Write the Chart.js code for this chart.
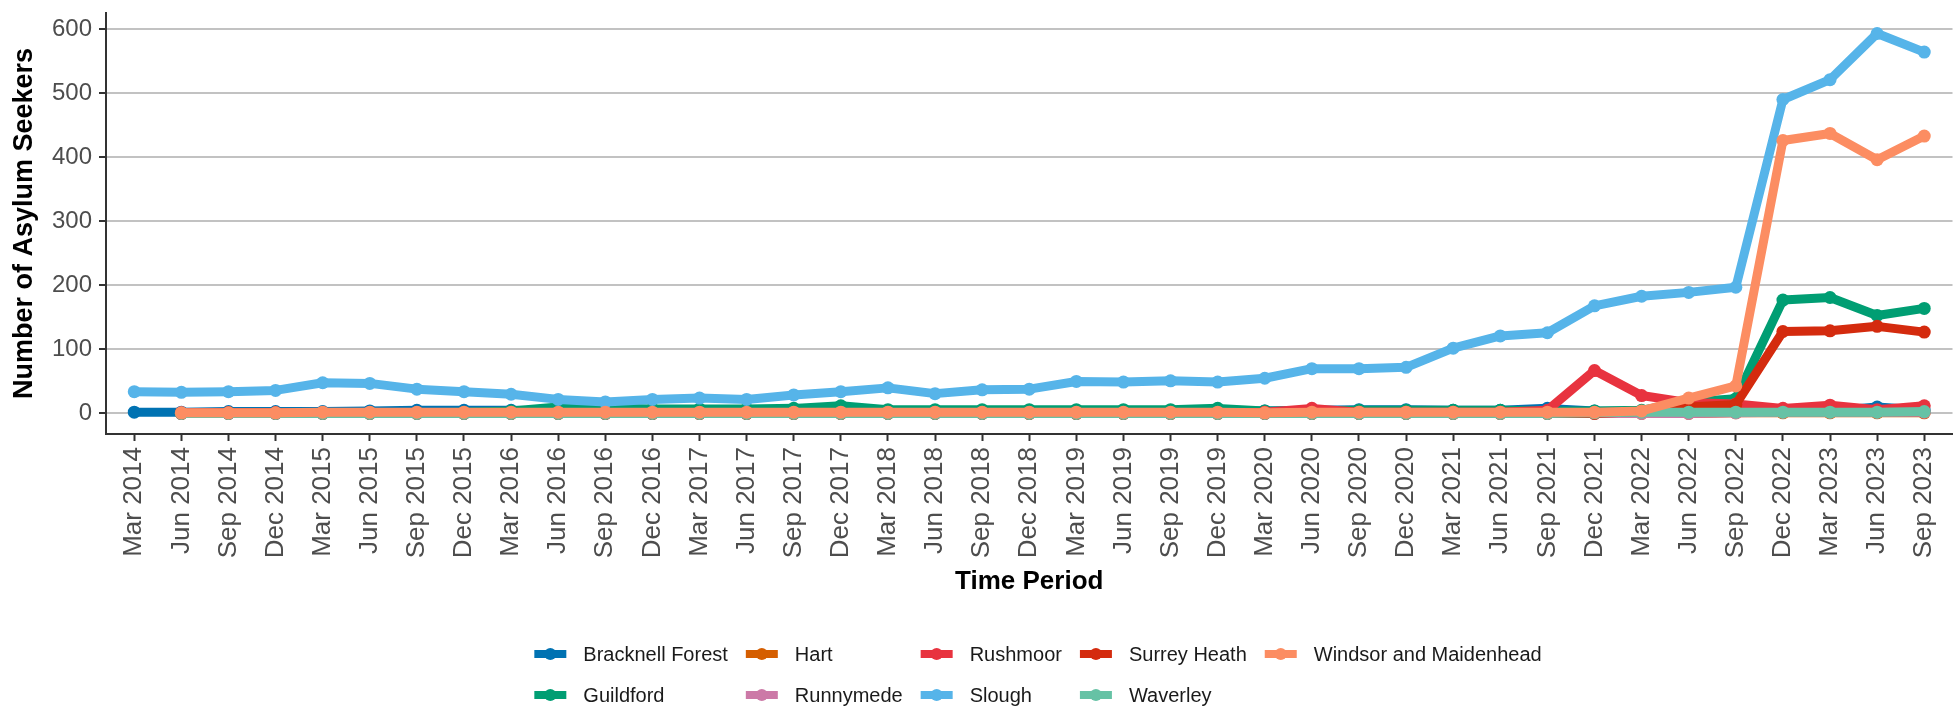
<!DOCTYPE html>
<html>
<head>
<meta charset="utf-8">
<title>Asylum seekers by local authority</title>
<script src="https://cdn.jsdelivr.net/npm/chart.js@4.4.1/dist/chart.umd.min.js"></script>
<style>
  html, body { margin: 0; padding: 0; background: #fff; }
  canvas { display: block; }
</style>
</head>
<body>
<canvas id="myChart" width="1959" height="706"></canvas>
<script>
const quarters = ['Mar 2014', 'Jun 2014', 'Sep 2014', 'Dec 2014', 'Mar 2015', 'Jun 2015', 'Sep 2015', 'Dec 2015',
  'Mar 2016', 'Jun 2016', 'Sep 2016', 'Dec 2016', 'Mar 2017', 'Jun 2017', 'Sep 2017', 'Dec 2017',
  'Mar 2018', 'Jun 2018', 'Sep 2018', 'Dec 2018', 'Mar 2019', 'Jun 2019', 'Sep 2019', 'Dec 2019',
  'Mar 2020', 'Jun 2020', 'Sep 2020', 'Dec 2020', 'Mar 2021', 'Jun 2021', 'Sep 2021', 'Dec 2021',
  'Mar 2022', 'Jun 2022', 'Sep 2022', 'Dec 2022', 'Mar 2023', 'Jun 2023', 'Sep 2023'];

const yTicks = [0, 100, 200, 300, 400, 500, 600];

// one array per local authority, same order as quarters (null = no figure that quarter)
const bracknellForest = [2, 2, 3, 3, 3, 4, 5, 5, 5, 4, 4, 4, 4, 4, 4, 4, 4, 4, 4, 4, 4, 4, 4, 4, 4, 5, 6, 6, 5, 5, 8, 4, 3, 3, 3, 3, 4, 10, 5];
const guildford = [null, 0, 0, 0, 0, 0, 1, 2, 4, 10, 9, 7, 7, 7, 8, 12, 6, 6, 6, 6, 6, 6, 6, 8, 4, 4, 5, 5, 5, 5, 4, 4, 5, 18, 23, 177, 181, 153, 164];
const hart = [null, 0, 1, 1, 1, 1, 1, 0, 0, 0, 0, 0, 0, 0, 0, 0, 1, 1, 1, 0, 0, 0, 0, 0, 0, 0, 0, 0, 0, 0, 0, 0, 0, 0, 1, 1, 1, 1, 1];
const runnymede = [null, 0, 0, 0, 0, 0, 0, 0, 0, 0, 0, 0, 0, 0, 1, 1, 1, 1, 1, 1, 1, 1, 1, 0, 0, 0, 0, 0, 0, 0, 0, 0, 0, 0, 1, 2, 2, 2, 2];
const rushmoor = [null, 1, 1, 1, 1, 1, 1, 1, 1, 1, 0, 0, 0, 0, 0, 0, 0, 0, 0, 0, 0, 0, 0, 1, 2, 8, 2, 2, 2, 2, 5, 67, 28, 17, 15, 8, 13, 6, 12];
const slough = [34, 33, 34, 36, 48, 47, 38, 34, 30, 22, 18, 22, 24, 22, 29, 34, 40, 31, 37, 38, 50, 49, 51, 49, 55, 70, 70, 72, 102, 121, 126, 168, 183, 189, 197, 490, 521, 593, 564];
const surreyHeath = [null, 0, 0, 0, 0, 0, 0, 0, 0, 0, 0, 0, 0, 0, 0, 0, 0, 0, 0, 0, 0, 0, 0, 0, 0, 0, 0, 0, 0, 0, 0, 0, 3, 10, 14, 128, 129, 136, 127];
const waverley = [null, 0, 0, 0, 0, 0, 0, 0, 0, 0, 0, 0, 0, 0, 0, 0, 0, 0, 0, 0, 0, 0, 0, 0, 0, 0, 0, 0, 0, 0, 0, 1, 2, 2, 2, 2, 2, 2, 3];
const windsorMaidenhead = [null, 1, 1, 1, 2, 2, 2, 2, 2, 2, 2, 2, 2, 2, 2, 2, 2, 2, 2, 2, 2, 2, 2, 2, 1, 2, 2, 2, 2, 2, 2, 2, 4, 24, 43, 426, 437, 396, 433];

const areaNames = ['Bracknell Forest', 'Guildford', 'Hart', 'Runnymede', 'Rushmoor', 'Slough', 'Surrey Heath', 'Waverley', 'Windsor and Maidenhead'];
const areaValues = [bracknellForest, guildford, hart, runnymede, rushmoor, slough, surreyHeath, waverley, windsorMaidenhead];
const areaColours = ['#0072B2', '#009E73', '#D55E00', '#CC79A7', '#E8333F', '#56B4E9', '#D42B0E', '#66C2A5', '#FC8D62'];

Chart.defaults.font.family = '"Liberation Sans", Arial, sans-serif';

const datasets = areaNames.map(function(name, i) {
  return {
    label: name,
    data: areaValues[i].map((v, j) => ({ x: j, y: v })),
    borderColor: areaColours[i],
    backgroundColor: areaColours[i],
    pointBackgroundColor: areaColours[i],
    borderWidth: 9,
    pointRadius: 6.5,
    pointHoverRadius: 6.5,
    pointBorderWidth: 0,
    borderJoinStyle: 'round',
    tension: 0,
    // last area ends up on top, like ggplot
    order: areaNames.length - i
  };
});

// ggplot style legend: 2 rows, filled column by column
const columnLegend = {
  id: 'columnLegend',
  afterDraw(chart) {
    const ctx = chart.ctx;
    const sets = chart.data.datasets;
    const rows = 2, swatch = 32, gap = 17, colGap = 18;
    const rowY = [chart.height - 52, chart.height - 11];
    ctx.save();
    ctx.font = '20px "Liberation Sans", Arial, sans-serif';
    const cols = [];
    for (let i = 0; i < sets.length; i += rows) {
      const group = sets.slice(i, i + rows);
      cols.push({ group: group, w: Math.max(...group.map(d => ctx.measureText(d.label).width)) });
    }
    const total = cols.reduce((s, c) => s + swatch + gap + c.w, 0) + colGap * (cols.length - 1);
    let x = 1038 - total / 2;
    cols.forEach(function(c) {
      c.group.forEach(function(d, r) {
        const y = rowY[r];
        ctx.strokeStyle = d.borderColor;
        ctx.lineWidth = 8;
        ctx.beginPath();
        ctx.moveTo(x, y);
        ctx.lineTo(x + swatch, y);
        ctx.stroke();
        ctx.fillStyle = d.borderColor;
        ctx.beginPath();
        ctx.arc(x + swatch / 2, y, 6, 0, Math.PI * 2);
        ctx.fill();
        ctx.fillStyle = '#1a1a1a';
        ctx.textAlign = 'left';
        ctx.textBaseline = 'middle';
        ctx.fillText(d.label, x + swatch + gap, y + 1);
      });
      x += swatch + gap + c.w + colGap;
    });
    ctx.restore();
  }
};

const ctx = document.getElementById('myChart').getContext('2d');
const chart = new Chart(ctx, {
  type: 'line',
  data: { datasets: datasets },
  options: {
    responsive: false,
    devicePixelRatio: 1,
    animation: false,
    layout: { padding: { top: 13, bottom: 106, left: 0, right: 0 } },
    plugins: {
      legend: { display: false },
      tooltip: { enabled: false }
    },
    scales: {
      x: {
        type: 'linear',
        min: -0.6,
        max: quarters.length - 0.4,
        afterBuildTicks: axis => { axis.ticks = quarters.map((q, i) => ({ value: i })); },
        afterFit: scale => { scale.height = 166; scale.paddingLeft = 0; scale.paddingRight = 0; },
        grid: { drawOnChartArea: false, drawTicks: true, tickLength: 7, tickColor: '#333', tickWidth: 2 },
        border: { display: true, color: '#333', width: 2 },
        ticks: {
          autoSkip: false,
          minRotation: 90,
          maxRotation: 90,
          padding: 6,
          color: '#4d4d4d',
          font: { size: 26 },
          callback: v => quarters[v]
        },
        title: {
          display: true,
          text: 'Time Period',
          color: '#000',
          font: { size: 26, weight: 'bold', lineHeight: 1.2 },
          padding: { top: 0, bottom: 3 }
        }
      },
      y: {
        min: -32,
        max: 625,
        afterBuildTicks: axis => { axis.ticks = yTicks.map(v => ({ value: v })); },
        afterFit: scale => { scale.width = 106; scale.paddingTop = 0; scale.paddingBottom = 0; },
        grid: { color: '#c2c2c2', lineWidth: 2, drawTicks: true, tickLength: 7, tickColor: '#333', tickWidth: 2 },
        border: { display: true, color: '#333', width: 2 },
        ticks: {
          padding: 7,
          color: '#4d4d4d',
          font: { size: 24 }
        },
        title: {
          display: true,
          text: 'Number of Asylum Seekers',
          color: '#000',
          font: { size: 27, weight: 'bold', lineHeight: 1.2 },
          padding: { top: 8, bottom: 0 }
        }
      }
    }
  },
  plugins: [columnLegend]
});
</script>
</body>
</html>
